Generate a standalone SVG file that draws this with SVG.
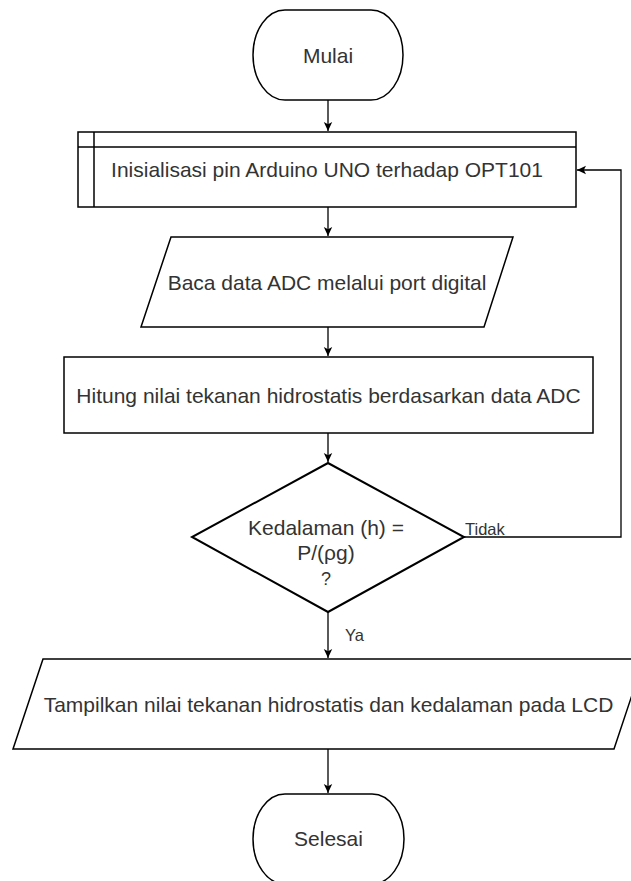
<svg xmlns="http://www.w3.org/2000/svg" width="631" height="881" viewBox="0 0 631 881">
<defs>
<style>
.s{fill:#fff;stroke:#000;stroke-width:1.5}
.t{font-family:"Liberation Sans",Arial,sans-serif;font-size:21px;fill:#333;text-anchor:middle}
.l{font-family:"Liberation Sans",Arial,sans-serif;font-size:16.5px;fill:#333}
.c{fill:none;stroke:#000;stroke-width:1.3}
</style>
<marker id="a" markerWidth="10" markerHeight="10" refX="9" refY="5" orient="auto" markerUnits="userSpaceOnUse">
<path d="M0,0.8 L9,5 L0,9.2 L2.2,5 Z" fill="#000"/>
</marker>
</defs>
<rect width="631" height="881" fill="#fff"/>
<g id="connectors">
<line class="c" x1="328" y1="100" x2="328" y2="131" marker-end="url(#a)"/>
<line class="c" x1="328" y1="207" x2="328" y2="236" marker-end="url(#a)"/>
<line class="c" x1="328" y1="327" x2="328" y2="356" marker-end="url(#a)"/>
<line class="c" x1="328" y1="433" x2="328" y2="462" marker-end="url(#a)"/>
<line class="c" x1="328" y1="612" x2="328" y2="658" marker-end="url(#a)"/>
<line class="c" x1="328" y1="749" x2="328" y2="793" marker-end="url(#a)"/>
<polyline class="c" points="464,537 621,537 621,170 577,170" marker-end="url(#a)"/>
<text class="l" x="465" y="535">Tidak</text>
<text class="l" x="345" y="641">Ya</text>
</g>
<g id="mulai">
<path class="s" d="M285,10 H371 A32,45 0 0 1 371,100 H285 A32,45 0 0 1 285,10 Z"/>
<text class="t" x="328" y="62.5">Mulai</text>
</g>
<g id="inisialisasi">
<rect class="s" x="78" y="132" width="498" height="75"/>
<line class="s" x1="78" y1="147" x2="576" y2="147"/>
<line class="s" x1="94" y1="132" x2="94" y2="207"/>
<text class="t" x="327" y="177">Inisialisasi pin Arduino UNO terhadap OPT101</text>
</g>
<g id="baca">
<polygon class="s" points="171,237 513,237 484,327 141,327"/>
<text class="t" x="327" y="289.5">Baca data ADC melalui port digital</text>
</g>
<g id="hitung">
<rect class="s" x="64" y="357" width="529" height="76"/>
<text class="t" x="328.5" y="402.5">Hitung nilai tekanan hidrostatis berdasarkan data ADC</text>
</g>
<g id="decision">
<polygon class="s" points="328,463 464,537 328,612 192,537" style="stroke-width:2"/>
<text class="t" x="326" y="535">Kedalaman (h) =</text>
<text class="t" x="326" y="560">P/(ρg)</text>
<text class="t" x="326" y="585" style="font-size:18px">?</text>
</g>
<g id="tampilkan">
<polygon class="s" points="43,659 644,659 614,749 13,749"/>
<text class="t" x="328.5" y="711.5">Tampilkan nilai tekanan hidrostatis dan kedalaman pada LCD</text>
</g>
<g id="selesai">
<path class="s" d="M285,794 H372 A32,45 0 0 1 372,884 H285 A32,45 0 0 1 285,794 Z"/>
<text class="t" x="328.5" y="846">Selesai</text>
</g>
</svg>
